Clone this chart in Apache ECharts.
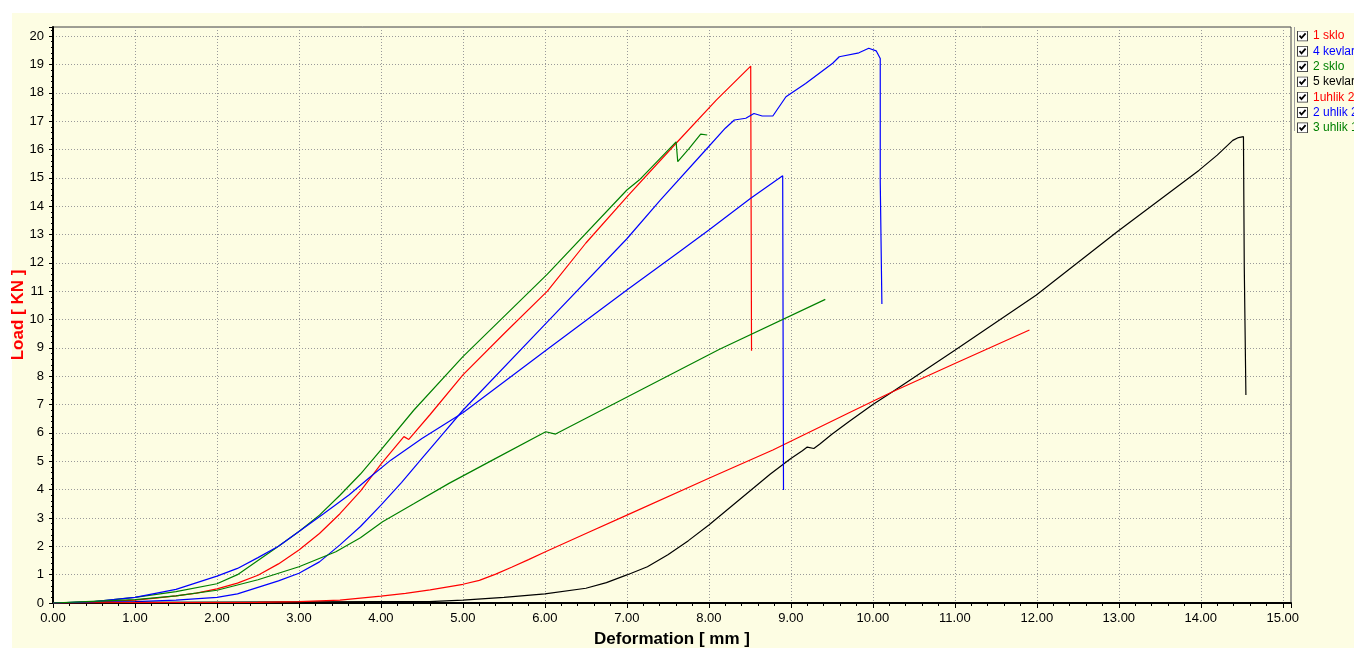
<!DOCTYPE html>
<html>
<head>
<meta charset="UTF-8">
<title>Load - Deformation</title>
<script src="https://cdn.jsdelivr.net/npm/echarts@6/dist/echarts.min.js"></script>
<style>
  html, body { margin: 0; padding: 0; background: #fff; }
  #chart { width: 1354px; height: 648px; }
</style>
</head>
<body>
<div id="chart"></div>
<script>
// legend names and colours
var seriesNames = ['1 sklo', '4 kevlar', '2 sklo', '5 kevlar', '1uhlik 2', '2 uhlik 2', '3 uhlik 1'];
var seriesColors = ['#ff0000', '#0000ff', '#008000', '#000000', '#ff0000', '#0000ff', '#008000'];

// [deformation mm, load kN]
var sklo1 = [[0,0],[0.5,0.03],[1.0,0.1],[1.25,0.17],[1.5,0.25],[1.75,0.35],[2.0,0.5],[2.25,0.7],[2.5,0.98],[2.75,1.38],
  [3.0,1.87],[3.25,2.45],[3.5,3.15],[3.75,3.95],[4.0,4.9],[4.28,5.87],[4.34,5.77],[4.6,6.65],[5.0,8.05],[5.5,9.5],
  [6.03,11.0],[6.5,12.7],[7.0,14.33],[7.6,16.22],[8.09,17.74],[8.51,18.94],[8.52,8.9]];
var kevlar4 = [[0,0],[1.0,0.05],[1.5,0.1],[2.0,0.2],[2.25,0.32],[2.5,0.55],[2.75,0.78],[3.0,1.05],[3.25,1.45],[3.5,2.05],
  [3.75,2.7],[4.0,3.45],[4.25,4.25],[4.5,5.1],[4.75,5.95],[5.0,6.8],[6.03,9.92],[7.0,12.85],[7.41,14.22],[7.96,15.98],
  [8.2,16.75],[8.31,17.04],[8.45,17.1],[8.55,17.27],[8.65,17.18],[8.78,17.18],[8.94,17.86],[9.18,18.33],[9.51,19.04],
  [9.59,19.27],[9.83,19.41],[9.95,19.57],[10.04,19.48],[10.09,19.21],[10.09,14.86],[10.11,14.8],[10.11,10.55]];
var sklo2 = [[0,0],[0.5,0.05],[1.0,0.2],[1.5,0.4],[2.0,0.68],[2.25,1.0],[2.5,1.5],[2.75,2.0],[3.0,2.52],[3.25,3.1],
  [3.5,3.8],[3.75,4.55],[4.0,5.4],[4.4,6.8],[5.0,8.69],[6.03,11.6],[7.0,14.57],[7.15,14.92],[7.6,16.27],[7.62,15.57],
  [7.76,16.04],[7.9,16.54],[7.98,16.51]];
var kevlar5 = [[0,0],[1,0.02],[2,0.03],[3,0.04],[4,0.05],[4.59,0.05],[5.0,0.1],[5.5,0.2],[6.0,0.32],[6.5,0.52],[6.75,0.72],
  [7.0,0.99],[7.25,1.28],[7.5,1.7],[7.75,2.2],[8.0,2.75],[8.25,3.35],[8.5,3.95],[8.75,4.55],[9.0,5.1],[9.14,5.37],
  [9.2,5.5],[9.28,5.45],[9.35,5.6],[9.5,5.95],[9.71,6.4],[10.0,7.0],[10.24,7.45],[11.0,8.92],[11.99,10.86],[12.98,13.1],
  [13.98,15.27],[14.2,15.8],[14.39,16.32],[14.46,16.42],[14.52,16.45],[14.53,11.86],[14.55,11.8],[14.55,7.34]];
var uhlik1 = [[0,0],[1,0.01],[2.5,0.02],[3.0,0.05],[3.5,0.1],[4.0,0.24],[4.3,0.34],[4.6,0.46],[5.0,0.66],[5.2,0.8],
  [5.4,1.02],[5.6,1.27],[5.8,1.53],[6.0,1.8],[6.5,2.45],[7.0,3.1],[8.0,4.4],[8.78,5.4],[9.71,6.71],[10.24,7.45],
  [11.0,8.45],[11.91,9.63]];
var uhlik2 = [[0,0],[0.5,0.05],[1.0,0.2],[1.5,0.48],[2.0,0.95],[2.25,1.22],[2.5,1.6],[2.75,2.0],[3.0,2.52],[3.3,3.15],
  [3.61,3.81],[3.85,4.4],[4.12,5.04],[4.5,5.8],[5.0,6.71],[6.03,8.95],[7.0,11.04],[7.64,12.39],[8.0,13.16],[8.51,14.28],
  [8.9,15.07],[8.91,3.99]];
var uhlik3 = [[0,0],[0.4,0.05],[1.0,0.12],[1.5,0.25],[2.0,0.45],[2.5,0.82],[3.0,1.28],[3.45,1.81],[3.75,2.3],[4.02,2.87],
  [4.4,3.5],[4.83,4.22],[5.36,5.04],[6.01,6.04],[6.13,5.96],[7.64,8.22],[8.13,8.95],[9.42,10.71]];

var seriesData = [sklo1, kevlar4, sklo2, kevlar5, uhlik1, uhlik2, uhlik3];

var bg = '#fdfde3';
var checkSvg = '<svg xmlns="http://www.w3.org/2000/svg" width="11" height="11">' +
  '<rect x="0.5" y="0.5" width="10" height="10" fill="#ffffff" stroke="#404040"/>' +
  '<path d="M2.5 5.2 L4.5 7.5 L8.6 2.8" fill="none" stroke="#000" stroke-width="1.8"/></svg>';
var checkIcon = 'image://data:image/svg+xml;charset=utf-8,' + encodeURIComponent(checkSvg);

var myChart = echarts.init(document.getElementById('chart'));

var series = [];
for (var i = 0; i < seriesNames.length; i++) {
    series.push({
        name: seriesNames[i],
        type: 'line',
        data: seriesData[i],
        showSymbol: false,
        symbol: 'none',
        color: seriesColors[i],
        lineStyle: { width: 1.2, color: seriesColors[i] },
        clip: true
    });
}

var fmt = function (v) { return Math.abs(v - Math.round(v)) < 1e-9 ? v : ''; };

var option = {
    animation: false,
    backgroundColor: '#ffffff',
    textStyle: { fontFamily: 'Liberation Sans, Arial, sans-serif' },
    graphic: [
        { type: 'rect', z: -10, shape: { x: 12, y: 13, width: 1342, height: 635 }, style: { fill: bg } },
        { type: 'line', z: 5, shape: { x1: 1294.5, y1: 27, x2: 1294.5, y2: 131 }, style: { stroke: '#a0a0a0', lineWidth: 1 } }
    ],
    grid: {
        left: 53, top: 27, right: 63, bottom: 45,
        outerBoundsMode: 'none',
        containLabel: false,
        show: true, backgroundColor: bg, borderColor: '#404040', borderWidth: 1
    },
    legend: {
        orient: 'vertical',
        left: 1297, top: 30, padding: 0,
        itemWidth: 11, itemHeight: 11, itemGap: 3.3,
        icon: checkIcon,
        textStyle: { fontSize: 12, fontFamily: 'Liberation Sans, Arial, sans-serif' },
        data: seriesNames.map(function (n, i) {
            return { name: n, textStyle: { color: seriesColors[i] } };
        }),
        selectedMode: false
    },
    xAxis: {
        type: 'value', min: 0, max: 15.1, interval: 1,
        name: 'Deformation [ mm ]', nameLocation: 'middle', nameGap: 28,
        nameMoveOverlap: false,
        nameTextStyle: { fontSize: 17, fontWeight: 'bold', color: '#000' },
        axisLine: { show: true, onZero: false, lineStyle: { color: '#000', width: 2 } },
        axisTick: { show: true, length: 5, lineStyle: { color: '#000' } },
        minorTick: { show: true, splitNumber: 5, length: 3, lineStyle: { color: '#000' } },
        axisLabel: {
            color: '#000', fontSize: 13, margin: 9,
            formatter: function (v) { return fmt(v) === '' ? '' : v.toFixed(2); }
        },
        splitLine: { show: true, lineStyle: { color: '#9a9a9a', type: [1, 2], width: 1 } }
    },
    yAxis: {
        type: 'value', min: 0, max: 20.32, interval: 1,
        name: 'Load [ KN ]', nameLocation: 'middle', nameGap: 26,
        nameMoveOverlap: false,
        nameTextStyle: { fontSize: 17, fontWeight: 'bold', color: '#ff0000' },
        axisLine: { show: true, onZero: false, lineStyle: { color: '#000', width: 2 } },
        axisTick: { show: true, length: 4, lineStyle: { color: '#000' } },
        minorTick: { show: true, splitNumber: 5, length: 2, lineStyle: { color: '#000' } },
        axisLabel: { color: '#000', fontSize: 13, margin: 9, formatter: fmt },
        splitLine: { show: true, lineStyle: { color: '#9a9a9a', type: [1, 2], width: 1 } }
    },
    series: series
};

myChart.setOption(option);
</script>
</body>
</html>
